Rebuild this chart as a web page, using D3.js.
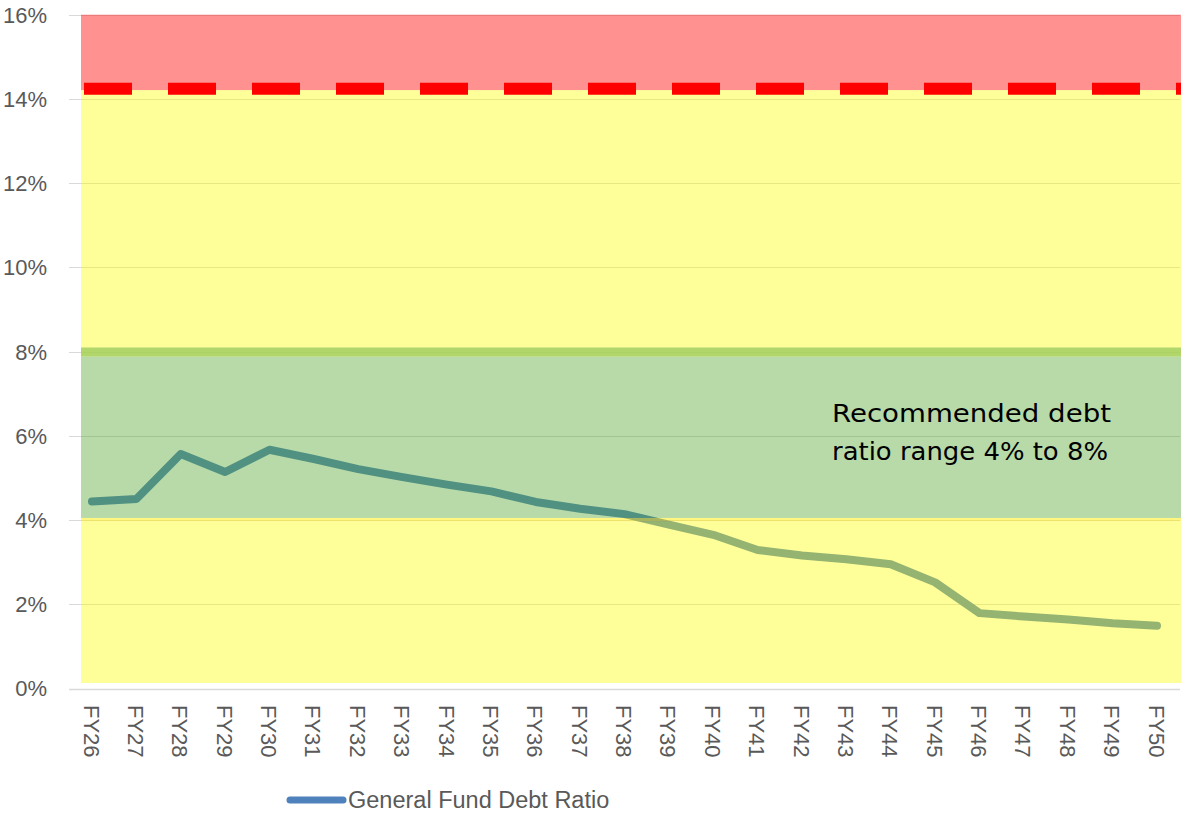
<!DOCTYPE html>
<html>
<head>
<meta charset="utf-8">
<script src="https://cdn.jsdelivr.net/npm/d3@7"></script>
<style>
  body { margin: 0; background: #fff; }
  svg { display: block; }
</style>
</head>
<body>
<svg id="chart" width="1181" height="815"></svg>
<script>
// data
const years = ["FY26","FY27","FY28","FY29","FY30","FY31","FY32","FY33","FY34","FY35","FY36","FY37","FY38",
  "FY39","FY40","FY41","FY42","FY43","FY44","FY45","FY46","FY47","FY48","FY49","FY50"];
const debtRatio = [4.44, 4.50, 5.57, 5.14, 5.67, 5.45, 5.21, 5.02, 4.84, 4.68, 4.43, 4.27, 4.14,
  3.89, 3.65, 3.29, 3.16, 3.07, 2.95, 2.52, 1.79, 1.71, 1.64, 1.55, 1.49];
const yTicks = [0, 2, 4, 6, 8, 10, 12, 14, 16];
// background zones (in %), bottom to top
const zoneLimits = [0.13, 3.97, 4.05, 7.88, 8.10, 14.21, 16];
const zoneKinds = ["yellow", "yellowEdge", "green", "greenEdge", "yellow", "red"];
const limitLine = 14.24;
const seriesName = "General Fund Debt Ratio";
const noteLines = ["Recommended debt", "ratio range 4% to 8%"];

const zoneFill = {
  yellow: "rgba(255,255,0,0.4)",
  yellowEdge: "rgba(255,235,0,0.5)",
  green: "rgba(83,168,47,0.42)",
  greenEdge: "rgba(163,207,80,0.85)",
  red: "rgba(255,0,0,0.43)"
};

const svg = d3.select("#chart");
const plotLeft = 81, plotRight = 1181;

const x = d3.scalePoint().domain(years).range([92, 1157]);
const y = d3.scaleLinear().domain([0, 16]).range([688.5, 14.7]);

// gridlines
svg.append("g")
  .selectAll("line")
  .data(yTicks)
  .enter().append("line")
  .attr("x1", 69).attr("x2", 1180)
  .attr("y1", d => Math.round(y(d)) + 0.5)
  .attr("y2", d => Math.round(y(d)) + 0.5)
  .attr("stroke", "#d9d9d9")
  .attr("stroke-width", d => d === 0 ? 1.5 : 1);

// y labels
svg.append("g")
  .selectAll("text")
  .data(yTicks)
  .enter().append("text")
  .attr("x", 47)
  .attr("y", d => y(d))
  .attr("dy", "0.36em")
  .attr("text-anchor", "end")
  .attr("font-family", "Liberation Sans, Arial, sans-serif")
  .attr("font-size", 22)
  .attr("fill", "#595959")
  .text(d => d + "%");

// series line (sits under the translucent zones)
const line = d3.line()
  .x((d, i) => x(years[i]))
  .y(d => y(d));

svg.append("path")
  .datum(debtRatio)
  .attr("d", line)
  .attr("fill", "none")
  .attr("stroke", "#4f81bd")
  .attr("stroke-width", 8)
  .attr("stroke-linecap", "round")
  .attr("stroke-linejoin", "round");

// zones
const zones = zoneKinds.map((k, i) => ({ kind: k, from: zoneLimits[i], to: zoneLimits[i + 1] }));
svg.append("g")
  .selectAll("rect")
  .data(zones)
  .enter().append("rect")
  .attr("x", plotLeft)
  .attr("width", plotRight - plotLeft)
  .attr("y", d => y(d.to))
  .attr("height", d => y(d.from) - y(d.to))
  .attr("fill", d => zoneFill[d.kind]);

// red dashed limit
svg.append("line")
  .attr("x1", 84).attr("x2", plotRight)
  .attr("y1", y(limitLine)).attr("y2", y(limitLine))
  .attr("stroke", "#ff0000")
  .attr("stroke-width", 12)
  .attr("stroke-dasharray", "48,36");

// note
const noteWidths = [279, 276];
const note = svg.append("text")
  .attr("font-family", "DejaVu Sans, sans-serif")
  .attr("font-size", 25)
  .attr("fill", "#000");
note.selectAll("tspan")
  .data(noteLines)
  .enter().append("tspan")
  .attr("x", 832)
  .attr("y", (d, i) => 421.5 + i * 38.5)
  .attr("textLength", (d, i) => noteWidths[i])
  .attr("lengthAdjust", "spacingAndGlyphs")
  .text(d => d);

// x labels
svg.append("g")
  .selectAll("text")
  .data(years)
  .enter().append("text")
  .attr("transform", d => `translate(${x(d) - 0.5},705) rotate(90)`)
  .attr("dy", "0.36em")
  .attr("font-family", "Liberation Sans, Arial, sans-serif")
  .attr("font-size", 22)
  .attr("fill", "#595959")
  .text(d => d);

// legend
svg.append("line")
  .attr("x1", 290).attr("x2", 343)
  .attr("y1", 800).attr("y2", 800)
  .attr("stroke", "#4f81bd")
  .attr("stroke-width", 7)
  .attr("stroke-linecap", "round");
svg.append("text")
  .attr("x", 348)
  .attr("y", 808)
  .attr("font-family", "Liberation Sans, Arial, sans-serif")
  .attr("font-size", 23.5)
  .attr("fill", "#595959")
  .text(seriesName);
</script>
</body>
</html>
